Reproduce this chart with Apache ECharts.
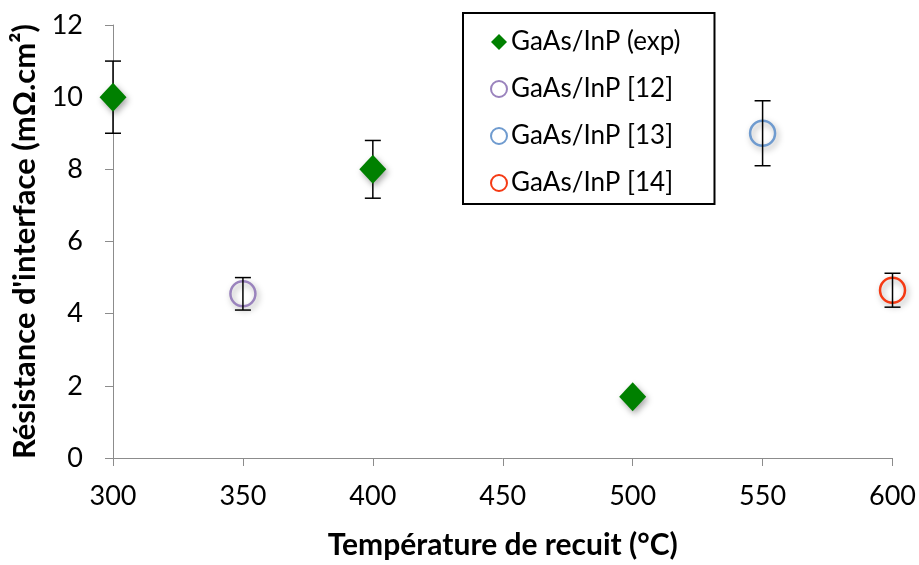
<!DOCTYPE html>
<html>
<head>
<meta charset="utf-8">
<script src="https://cdn.jsdelivr.net/npm/echarts@6/dist/echarts.min.js"></script>
<style>
  html, body { margin: 0; padding: 0; background: #fff; }
  #chart { width: 919px; height: 565px; }
</style>
</head>
<body>
<div id="chart"></div>
<script>
// Interface resistance vs. annealing temperature
const FONT = 'Lato, "Liberation Sans", sans-serif';

const expTemp = [300, 400, 500];
const expRes = [10, 8, 1.7];
const expErr = [1.0, 0.8, 0];

const ref12Temp = [350];
const ref12Res = [4.55];
const ref12Err = [0.45];

const ref13Temp = [550];
const ref13Res = [9.0];
const ref13Err = [0.9];

const ref14Temp = [600];
const ref14Res = [4.65];
const ref14Err = [0.47];

const seriesNames = ['GaAs/InP (exp)', 'GaAs/InP [12]', 'GaAs/InP [13]', 'GaAs/InP [14]'];
const xTicks = [300, 350, 400, 450, 500, 550, 600];
const yTicks = [0, 2, 4, 6, 8, 10, 12];

const pairs = (xs, ys) => xs.map((x, i) => [x, ys[i]]);
const errRows = (xs, ys, es) => xs.map((x, i) => [x, ys[i] - es[i], ys[i] + es[i]]);

const shadow = { opacity: 1, shadowBlur: 6, shadowColor: 'rgba(0,0,0,0.35)', shadowOffsetX: 2, shadowOffsetY: 3 };

// vertical error bar with short horizontal caps
function errorSeries(rows) {
  return {
    type: 'custom',
    data: rows,
    z: 3,
    silent: true,
    renderItem: function (params, api) {
      if (api.value(1) === api.value(2)) return null;
      const lo = api.coord([api.value(0), api.value(1)]);
      const hi = api.coord([api.value(0), api.value(2)]);
      const cap = 8;
      const style = { stroke: '#000', lineWidth: 1.5 };
      return {
        type: 'group',
        children: [
          { type: 'line', shape: { x1: lo[0], y1: lo[1], x2: hi[0], y2: hi[1] }, style },
          { type: 'line', shape: { x1: lo[0] - cap, y1: lo[1], x2: lo[0] + cap, y2: lo[1] }, style },
          { type: 'line', shape: { x1: hi[0] - cap, y1: hi[1], x2: hi[0] + cap, y2: hi[1] }, style }
        ]
      };
    }
  };
}

function ringSeries(name, color, xs, ys) {
  return {
    name, type: 'scatter', data: pairs(xs, ys), symbol: 'circle', symbolSize: 25, z: 2,
    itemStyle: Object.assign({ color: 'rgba(255,255,255,0)', borderColor: color, borderWidth: 2.5 }, shadow)
  };
}

const chart = echarts.init(document.getElementById('chart'));
chart.setOption({
  animation: false,
  grid: { left: 113, right: 26, top: 25, bottom: 105 },
  xAxis: {
    type: 'value', min: 300, max: 600, interval: 50,
    name: 'Température de recuit (°C)', nameLocation: 'middle', nameGap: 72,
    nameTextStyle: { fontFamily: FONT, fontWeight: 'bold', fontSize: 30, color: '#000' },
    axisLine: { lineStyle: { color: '#8c8c8c', width: 1 } },
    axisTick: { show: true, inside: false, length: 8, lineStyle: { color: '#8c8c8c' } },
    axisLabel: { fontFamily: FONT, fontSize: 27, color: '#000', margin: 25,
      formatter: v => xTicks.includes(v) ? String(v) : '' },
    splitLine: { show: false }
  },
  yAxis: {
    type: 'value', min: 0, max: 12, interval: 2,
    name: "Résistance d'interface (mΩ.cm²)", nameLocation: 'middle', nameGap: 70, nameRotate: 90,
    nameTextStyle: { fontFamily: FONT, fontWeight: 'bold', fontSize: 31, color: '#000' },
    axisLine: { show: true, lineStyle: { color: '#8c8c8c', width: 1 } },
    axisTick: { show: true, inside: false, length: 8, lineStyle: { color: '#8c8c8c' } },
    axisLabel: { fontFamily: FONT, fontSize: 27, color: '#000', margin: 30,
      formatter: v => yTicks.includes(v) ? String(v) : '' },
    splitLine: { show: false }
  },
  legend: {
    data: seriesNames,
    orient: 'vertical',
    left: 463, top: 13,
    padding: [15, 34, 7, 27],
    itemGap: 19,
    itemWidth: 16, itemHeight: 16,
    backgroundColor: '#fff',
    borderColor: '#000', borderWidth: 2, borderRadius: 0,
    textStyle: { fontFamily: FONT, fontSize: 26, color: '#000', lineHeight: 28, padding: [0, 0, 0, -1] }
  },
  series: [
    ringSeries(seriesNames[1], '#9a83bd', ref12Temp, ref12Res),
    ringSeries(seriesNames[2], '#6f9bcf', ref13Temp, ref13Res),
    ringSeries(seriesNames[3], '#f53a14', ref14Temp, ref14Res),
    errorSeries(errRows(expTemp, expRes, expErr)),
    errorSeries(errRows(ref12Temp, ref12Res, ref12Err)),
    errorSeries(errRows(ref13Temp, ref13Res, ref13Err)),
    errorSeries(errRows(ref14Temp, ref14Res, ref14Err)),
    {
      name: seriesNames[0], type: 'scatter', data: pairs(expTemp, expRes),
      symbol: 'diamond', symbolSize: [27, 29], z: 4,
      itemStyle: Object.assign({ color: '#008000' }, shadow)
    }
  ]
});
</script>
</body>
</html>
